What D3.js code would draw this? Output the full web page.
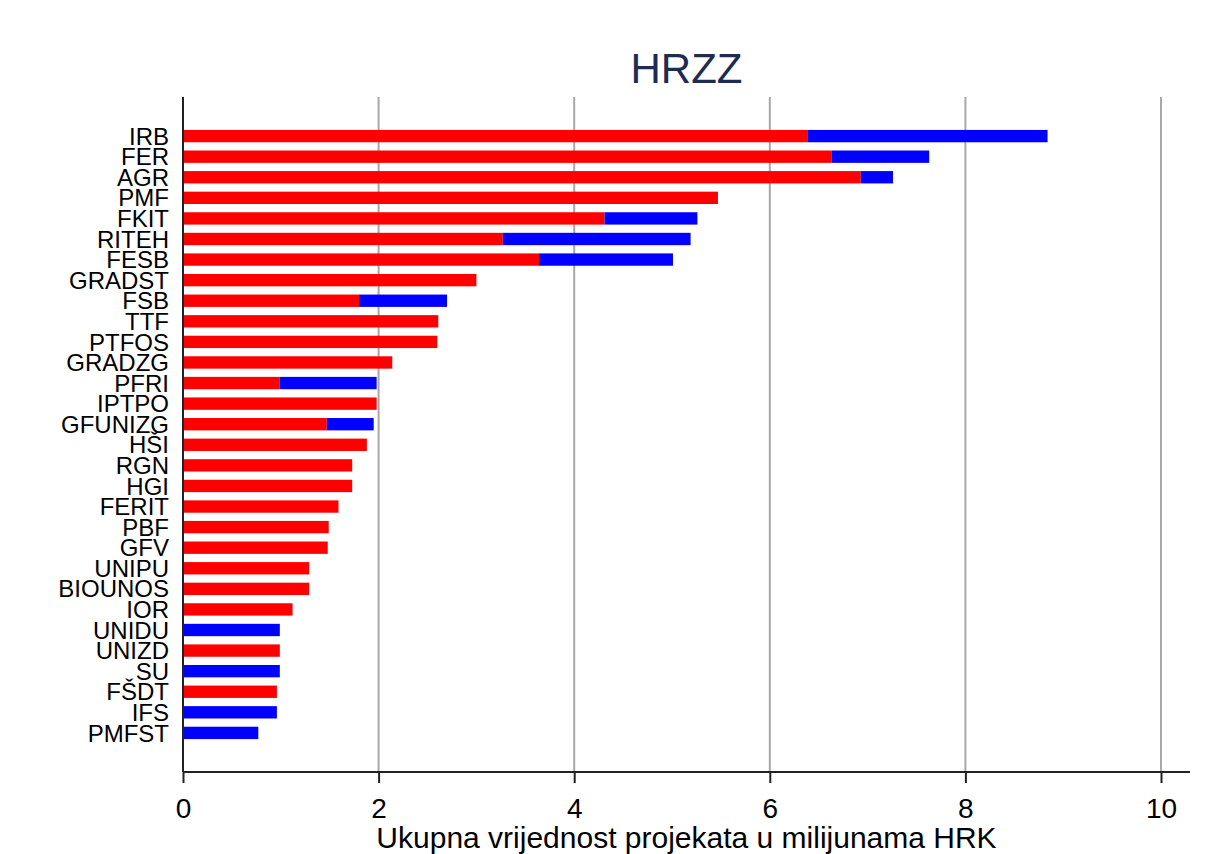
<!DOCTYPE html>
<html>
<head>
<meta charset="utf-8">
<script src="https://cdn.jsdelivr.net/npm/d3@7"></script>
<style>
  body { margin: 0; background: #fff; }
  text { font-family: "Liberation Sans", Arial, sans-serif; }
</style>
</head>
<body>
<div id="chart"></div>
<script>
// Data
const categories = ["IRB", "FER", "AGR", "PMF", "FKIT", "RITEH", "FESB", "GRADST", "FSB", "TTF",
  "PTFOS", "GRADZG", "PFRI", "IPTPO", "GFUNIZG", "HŠI", "RGN", "HGI", "FERIT", "PBF",
  "GFV", "UNIPU", "BIOUNOS", "IOR", "UNIDU", "UNIZD", "SU", "FŠDT", "IFS", "PMFST"];
const redValues = [6.39, 6.63, 6.93, 5.47, 4.31, 3.27, 3.64, 3.00, 1.80, 2.61,
  2.60, 2.14, 0.99, 1.98, 1.47, 1.88, 1.73, 1.73, 1.59, 1.49,
  1.48, 1.29, 1.29, 1.12, 0, 0.99, 0, 0.96, 0, 0];
const blueValues = [2.45, 1.00, 0.33, 0, 0.95, 1.92, 1.37, 0, 0.90, 0,
  0, 0, 0.99, 0, 0.48, 0, 0, 0, 0, 0,
  0, 0, 0, 0, 0.99, 0, 0.99, 0, 0.96, 0.77];
const xTicks = [0, 2, 4, 6, 8, 10];

const width = 1209;
const height = 854;
const plotLeft = 183, plotRight = 1190, plotTop = 97, plotBottom = 772;

const svg = d3.select("#chart")
  .append("svg")
  .attr("width", width)
  .attr("height", height);

const xScale = d3.scaleLinear()
  .domain([0, 10])
  .range([plotLeft, 1161]);

const yScale = d3.scaleBand()
  .domain(categories)
  .range([plotTop, plotBottom])
  .paddingInner(0.4)
  .paddingOuter(1.6);

// gridlines
svg.append("g")
  .selectAll("line")
  .data(xTicks.filter(d => d > 0))
  .enter()
  .append("line")
  .attr("x1", d => xScale(d))
  .attr("x2", d => xScale(d))
  .attr("y1", plotTop)
  .attr("y2", plotBottom)
  .style("stroke", "#a8a8a8")
  .style("stroke-width", 2);

// stacked bars
const rows = categories.map((c, i) => ({ cat: c, red: redValues[i], blue: blueValues[i] }));

svg.append("g")
  .selectAll("rect")
  .data(rows.filter(d => d.red > 0))
  .enter()
  .append("rect")
  .attr("x", xScale(0))
  .attr("y", d => yScale(d.cat))
  .attr("width", d => xScale(d.red) - xScale(0))
  .attr("height", yScale.bandwidth())
  .style("fill", "#ff0000");

svg.append("g")
  .selectAll("rect")
  .data(rows.filter(d => d.blue > 0))
  .enter()
  .append("rect")
  .attr("x", d => xScale(d.red))
  .attr("y", d => yScale(d.cat))
  .attr("width", d => xScale(d.red + d.blue) - xScale(d.red))
  .attr("height", yScale.bandwidth())
  .style("fill", "#0000ff");

// x axis
const xAxis = svg.append("g")
  .attr("transform", `translate(0,${plotBottom})`)
  .call(d3.axisBottom(xScale).tickValues(xTicks).tickSize(11).tickPadding(15).tickFormat(d3.format("d")));
xAxis.select(".domain").remove();
xAxis.selectAll(".tick line").style("stroke", "#222").style("stroke-width", 2);
xAxis.selectAll("text").style("font-size", "28px").style("fill", "#000");

svg.append("line")
  .attr("x1", plotLeft).attr("x2", plotRight)
  .attr("y1", plotBottom).attr("y2", plotBottom)
  .style("stroke", "#222").style("stroke-width", 2);

// y axis
const yAxis = svg.append("g")
  .attr("transform", `translate(${plotLeft},0)`)
  .call(d3.axisLeft(yScale).tickSize(0).tickPadding(14));
yAxis.select(".domain").remove();
yAxis.selectAll("text").attr("dy", "0.36em").style("font-size", "24px").style("fill", "#000");

svg.append("line")
  .attr("x1", plotLeft).attr("x2", plotLeft)
  .attr("y1", plotTop).attr("y2", plotBottom)
  .style("stroke", "#222").style("stroke-width", 2);

// title
svg.append("text")
  .attr("x", (plotLeft + plotRight) / 2)
  .attr("y", 83)
  .attr("text-anchor", "middle")
  .style("font-size", "42px")
  .style("fill", "#1e2b52")
  .text("HRZZ");

// axis title
svg.append("text")
  .attr("x", (plotLeft + plotRight) / 2)
  .attr("y", 848)
  .attr("text-anchor", "middle")
  .style("font-size", "30px")
  .style("fill", "#000")
  .text("Ukupna vrijednost projekata u milijunama HRK");
</script>
</body>
</html>
